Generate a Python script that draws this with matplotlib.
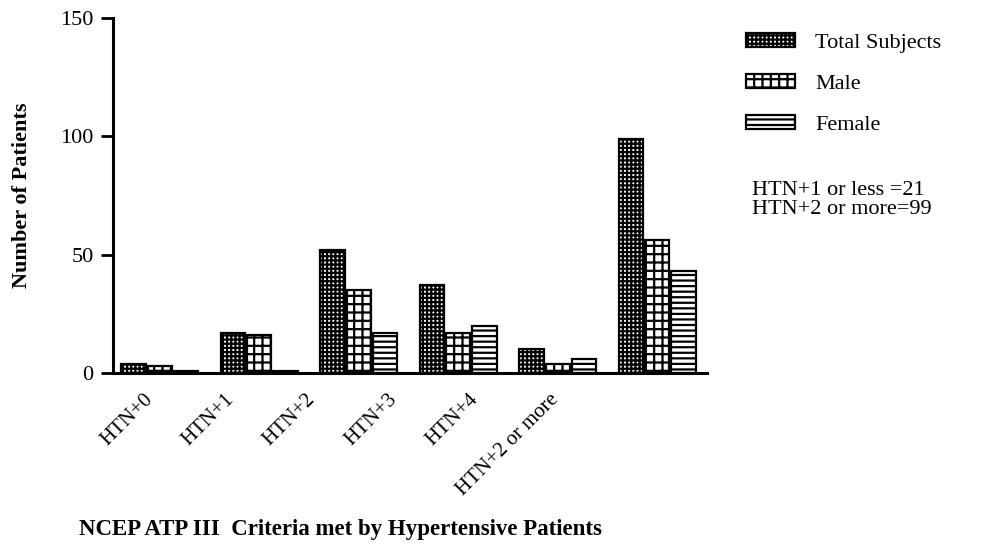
import numpy as np
import matplotlib
matplotlib.use('Agg')
import matplotlib.pyplot as plt

plt.rcParams['font.family'] = ['Liberation Serif', 'DejaVu Serif']
plt.rcParams['hatch.linewidth'] = 1.6

# データ
categories = ['HTN+0', 'HTN+1', 'HTN+2', 'HTN+3', 'HTN+4', 'HTN+2 or more']
total = [4, 17, 52, 37, 10, 99]
male = [3, 16, 35, 17, 4, 56]
female = [1, 1, 17, 20, 6, 43]
series_names = ['Total Subjects', 'Male', 'Female']
hatches = ['++++', '++', '---']

fig = plt.figure(figsize=(9.84, 5.5), dpi=100)
ax = fig.add_axes([113/984, 1-373/550, (707-113)/984, (373-18)/550])

x = np.arange(len(categories))
w = 0.245
step = 0.265
handles = []
for i, (vals, h) in enumerate(zip([total, male, female], hatches)):
    b = ax.bar(x + (i-1)*step, vals, width=w, facecolor='white', edgecolor='black',
               linewidth=1.6, hatch=h, label=series_names[i])
    handles.append(b)

ax.set_xlim(-0.47, 5.5)
ax.set_ylim(0, 150)
ax.set_yticks([0, 50, 100, 150])
ax.tick_params(axis='y', labelsize=16, length=9, width=2, direction='out', pad=5)
ax.tick_params(axis='x', length=0, pad=12)
# 元画像ではラベルが棒グループより左に寄っている
label_pos = x*0.815 - 0.16
ax.set_xticks(label_pos)
ax.set_xticklabels(categories, rotation=45, ha='right', va='top',
                   rotation_mode='anchor', fontsize=15)
for s in ['top', 'right']:
    ax.spines[s].set_visible(False)
for s in ['left', 'bottom']:
    ax.spines[s].set_linewidth(2.2)

ax.set_ylabel('Number of Patients', fontsize=16, fontweight='bold', labelpad=20)
fig.text(340/984, 1-529/550, 'NCEP ATP III  Criteria met by Hypertensive Patients',
         ha='center', va='center', fontsize=16.5, fontweight='bold')

fig.legend(handles=handles, loc='upper left', bbox_to_anchor=(726/984, 1-13/550),
           frameon=False, fontsize=16, handlelength=2.2, handleheight=0.6,
           labelspacing=0.95, handletextpad=0.9)

fig.text(752/984, 1-200/550, 'HTN+1 or less =21\nHTN+2 or more=99',
         ha='left', va='center', fontsize=16, linespacing=1.05)

plt.savefig('out.png', dpi=100)
